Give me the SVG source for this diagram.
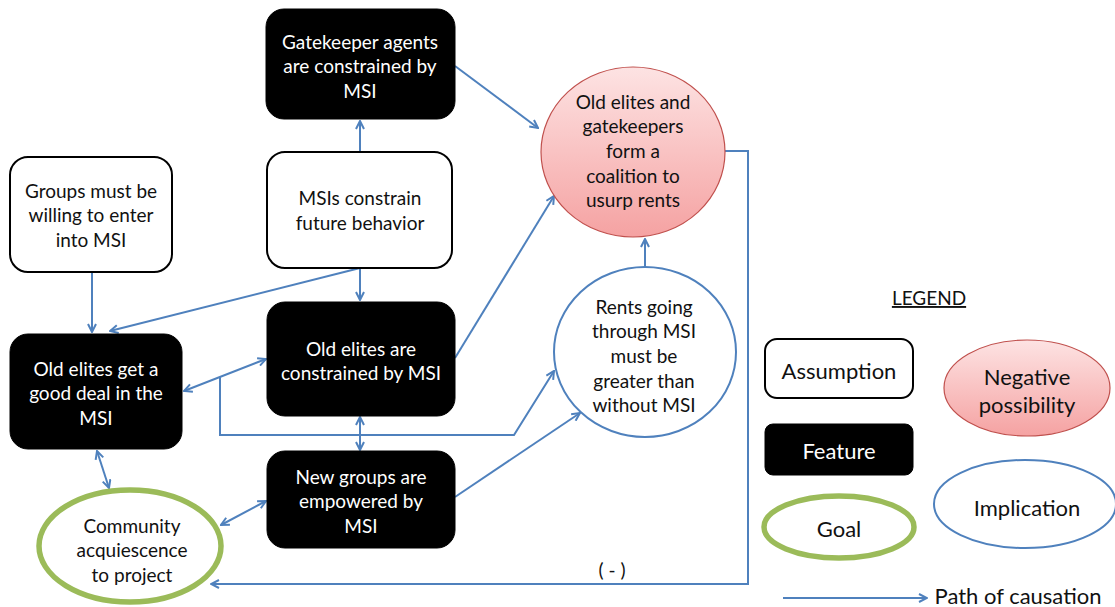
<svg xmlns="http://www.w3.org/2000/svg" width="1115" height="607" viewBox="0 0 1115 607">
<defs>
<marker id="arr" viewBox="0 0 10 10" refX="9" refY="5" markerWidth="10" markerHeight="10" markerUnits="userSpaceOnUse" orient="auto-start-reverse">
<path d="M1,1 L9,5 L1,9" fill="none" stroke="#4f81bd" stroke-width="2"/>
</marker>
<linearGradient id="pink" x1="0" y1="0" x2="0" y2="1">
<stop offset="0" stop-color="#fde3e3"/>
<stop offset="1" stop-color="#f5a2a2"/>
</linearGradient>
</defs>
<style>
text{font-family:Lato,"Open Sans","Liberation Sans",sans-serif;font-size:19px;text-anchor:middle;fill:#111}
.w{fill:#fff}
.lg{font-size:22px}
.feat{fill:#000;stroke:#000;stroke-width:1}
.assume{fill:#fff;stroke:#000;stroke-width:2}
.neg{fill:url(#pink);stroke:#c0504d;stroke-width:1.2}
.impl{fill:#fff;stroke:#4f81bd;stroke-width:2}
.goal{fill:#fff;stroke:#9bbb59;stroke-width:5.5}
.c{fill:none;stroke:#4f81bd;stroke-width:2}
</style>
<rect width="1115" height="607" fill="#fff"/>
<g id="connectors">
<path class="c" d="M360,152 L360,121" marker-end="url(#arr)"/>
<path class="c" d="M455,66 L538,128" marker-end="url(#arr)"/>
<path class="c" d="M360,268 L360,300" marker-end="url(#arr)"/>
<path class="c" d="M360,268 L110,331" marker-end="url(#arr)"/>
<path class="c" d="M92,272 L92,332" marker-end="url(#arr)"/>
<path class="c" d="M184,391 L266,359" marker-start="url(#arr)" marker-end="url(#arr)"/>
<path class="c" d="M220,377 L220,435 L514,435 L554,371" marker-end="url(#arr)"/>
<path class="c" d="M360,417 L360,450" marker-start="url(#arr)" marker-end="url(#arr)"/>
<path class="c" d="M455,358 L554,196" marker-end="url(#arr)"/>
<path class="c" d="M455,497 L580,413" marker-end="url(#arr)"/>
<path class="c" d="M97,451 L109,488" marker-start="url(#arr)" marker-end="url(#arr)"/>
<path class="c" d="M221,525 L266,501" marker-start="url(#arr)" marker-end="url(#arr)"/>
<path class="c" d="M645,270 L645,239" marker-end="url(#arr)"/>
<path class="c" d="M725,151 L748,151 L748,584 L211,584" marker-end="url(#arr)"/>
<text x="612" y="577">( - )</text>
</g>
<g id="gatekeeper">
<rect class="feat" x="266" y="9" width="189" height="110" rx="18"/>
<text class="w" x="360" y="49">Gatekeeper agents</text>
<text class="w" x="360" y="73">are constrained by</text>
<text class="w" x="360" y="98">MSI</text>
</g>
<g id="msis-constrain">
<rect class="assume" x="267" y="152" width="185" height="116" rx="18"/>
<text x="360" y="205">MSIs constrain</text>
<text x="360" y="230">future behavior</text>
</g>
<g id="groups-willing">
<rect class="assume" x="10" y="157" width="162" height="115" rx="18"/>
<text x="91" y="198">Groups must be</text>
<text x="91" y="222">willing to enter</text>
<text x="91" y="247">into MSI</text>
</g>
<g id="old-elites-deal">
<rect class="feat" x="10" y="334" width="172" height="115" rx="18"/>
<text class="w" x="96" y="376">Old elites get a</text>
<text class="w" x="96" y="400">good deal in the</text>
<text class="w" x="96" y="425">MSI</text>
</g>
<g id="old-elites-constrained">
<rect class="feat" x="267" y="302" width="188" height="114" rx="18"/>
<text class="w" x="361" y="356">Old elites are</text>
<text class="w" x="361" y="380">constrained by MSI</text>
</g>
<g id="new-groups">
<rect class="feat" x="267" y="451" width="188" height="97" rx="18"/>
<text class="w" x="361" y="484">New groups are</text>
<text class="w" x="361" y="508">empowered by</text>
<text class="w" x="361" y="533">MSI</text>
</g>
<g id="community">
<ellipse class="goal" cx="130" cy="546" rx="91" ry="56"/>
<text x="132" y="533">Community</text>
<text x="132" y="557">acquiescence</text>
<text x="132" y="582">to project</text>
</g>
<g id="coalition">
<ellipse class="neg" cx="633" cy="152" rx="92" ry="85"/>
<text x="633" y="109">Old elites and</text>
<text x="633" y="133">gatekeepers</text>
<text x="633" y="158">form a</text>
<text x="633" y="183">coalition to</text>
<text x="633" y="207">usurp rents</text>
</g>
<g id="rents">
<ellipse class="impl" cx="645" cy="352" rx="91" ry="85"/>
<text x="644" y="314">Rents going</text>
<text x="644" y="338">through MSI</text>
<text x="644" y="363">must be</text>
<text x="644" y="388">greater than</text>
<text x="644" y="412">without MSI</text>
</g>
<g id="legend">
<text x="929" y="305" font-size="20" text-decoration="underline">LEGEND</text>
<rect class="assume" x="765" y="339" width="148" height="59" rx="12"/>
<text class="lg" x="839" y="379">Assumption</text>
<rect class="feat" x="765" y="424" width="148" height="51" rx="8"/>
<text class="w lg" x="839" y="459">Feature</text>
<ellipse class="goal" cx="839" cy="527" rx="75" ry="31"/>
<text class="lg" x="839" y="537">Goal</text>
<ellipse class="neg" cx="1027" cy="388" rx="83" ry="48"/>
<text class="lg" x="1027" y="385">Negative</text>
<text class="lg" x="1027" y="413">possibility</text>
<ellipse class="impl" cx="1025" cy="504" rx="91" ry="44"/>
<text class="lg" x="1027" y="516">Implication</text>
<path class="c" d="M783,598 L927,598" marker-end="url(#arr)"/>
<text class="lg" x="1018" y="604">Path of causation</text>
</g>
</svg>
